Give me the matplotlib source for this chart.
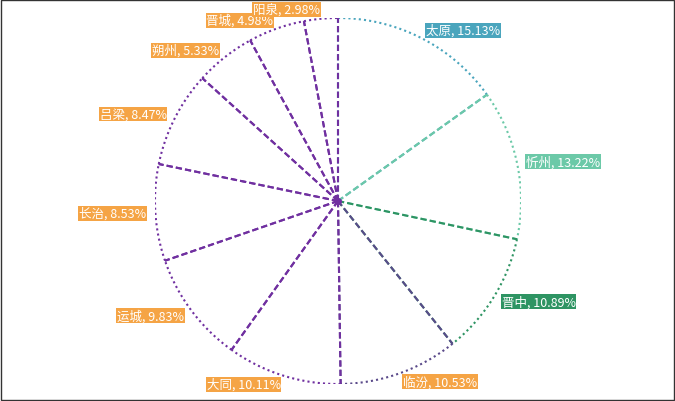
import matplotlib
matplotlib.use("Agg")
import matplotlib.pyplot as plt
import numpy as np

plt.rcParams['font.family'] = ['Noto Sans CJK SC', 'DejaVu Sans']

cities = ['太原', '忻州', '晋中', '临汾', '大同', '运城', '长治', '吕梁', '朔州', '晋城', '阳泉']
values = [15.13, 13.22, 10.89, 10.53, 10.11, 9.83, 8.53, 8.47, 5.33, 4.98, 2.98]
line_colors = ['#4aa5bd', '#6cc9a8', '#2e9463', '#5a4a8a'] + ['#7030a0'] * 7
label_colors = ['#4aa5bd', '#6cc9a8', '#2e9463'] + ['#f5a445'] * 8

fig = plt.figure(figsize=(6.75, 4.02), dpi=100)
fig.patches.append(plt.Rectangle((0.001, 0.002), 0.997, 0.995, transform=fig.transFigure,
                                 fill=False, edgecolor='#333333', linewidth=1))
ax = fig.add_axes([(338 - 183) / 675, (402 - 385) / 402, 366 / 675, 366 / 402])

wedges, texts = ax.pie(values, startangle=90, counterclock=False,
                       labels=[f'{c}, {v:.2f}%' for c, v in zip(cities, values)],
                       labeldistance=1.05,
                       wedgeprops=dict(fill=False, linewidth=0))
total = sum(values)
cum = 0
for w, t, v, lc, bc in zip(wedges, texts, values, line_colors, label_colors):
    a1 = np.deg2rad(90 - cum / total * 360)
    a2 = np.deg2rad(90 - (cum + v) / total * 360)
    th = np.linspace(a1, a2, 100)
    ax.plot(np.cos(th), np.sin(th), color=lc, linestyle=(0, (1, 1.5)), linewidth=1.5)
    for a in (a1, a2):
        ax.plot([0, np.cos(a)], [0, np.sin(a)], color=lc, linestyle=(0, (3, 1.5)), linewidth=1.5)
    cum += v
    t.set_color('white')
    t.set_fontsize(9)
    t.set_va('center')
    t.set_bbox(dict(facecolor=bc, edgecolor='none', pad=0.5))
ax.plot(0, 0, 'o', color='#7030a0', markersize=4)
ax.set_xlim(-1, 1)
ax.set_ylim(-1, 1)
ax.set_aspect('equal')
ax.axis('off')
fig.savefig('out.png', dpi=100)
